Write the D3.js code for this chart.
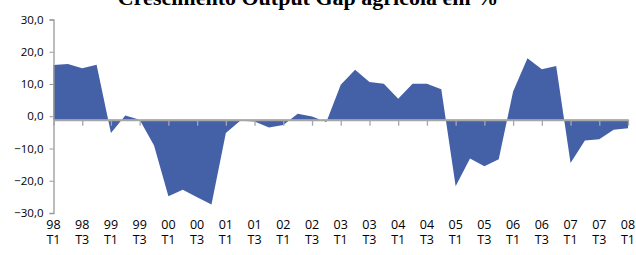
<!doctype html>
<html>
  <head>
    <script src="https://d3js.org/d3.v7.min.js"></script>
    <style>
      body { margin: 0; background: #fff; }
    </style>
  </head>
  <body>
    <script>
    // quarterly data, 98 T1 .. 08 T1
    var quarters = [
      "98 T1","98 T2","98 T3","98 T4",
      "99 T1","99 T2","99 T3","99 T4",
      "00 T1","00 T2","00 T3","00 T4",
      "01 T1","01 T2","01 T3","01 T4",
      "02 T1","02 T2","02 T3","02 T4",
      "03 T1","03 T2","03 T3","03 T4",
      "04 T1","04 T2","04 T3","04 T4",
      "05 T1","05 T2","05 T3","05 T4",
      "06 T1","06 T2","06 T3","06 T4",
      "07 T1","07 T2","07 T3","07 T4",
      "08 T1"
    ];
    var values = [
      15.9, 16.2, 14.9, 16.0,
      -5.2, 0.2, -1.1, -9.1,
      -24.8, -22.8, -25.1, -27.4,
      -5.2, -1.4, -1.6, -3.5,
      -2.7, 0.8, -0.1, -1.8,
      9.8, 14.4, 10.6, 10.1,
      5.4, 10.1, 10.1, 8.4,
      -21.7, -13.1, -15.5, -13.3,
      7.7, 18.0, 14.6, 15.6,
      -14.5, -7.5, -7.1, -4.2,
      -3.7
    ];
    var yTicks = [-30, -20, -10, 0, 10, 20, 30];
    var title = "Crescimento Output Gap agrícola em %";

    var width = 636;
    var height = 255;
    var plotLeft = 53.5, plotRight = 628;
    var plotTop = 19.5, plotBottom = 213;
    var baseShift = 3.5; // category axis sits a bit under the 0,0 tick

    var svg = d3.select("body")
      .append("svg")
      .attr("width", width)
      .attr("height", height);

    var x = d3.scalePoint()
      .domain(quarters)
      .range([plotLeft, plotRight]);

    var y = d3.scaleLinear()
      .domain([-30, 30])
      .range([plotBottom, plotTop]);

    var baseY = y(0) + baseShift;

    var data = quarters.map(function(q, i) {
      return { q: q, v: values[i] };
    });

    var area = d3.area()
      .x(function(d) { return x(d.q); })
      .y0(baseY)
      .y1(function(d) { return y(d.v); });

    svg.append("path")
      .datum(data)
      .attr("fill", "#4461a7")
      .attr("d", area);

    // y axis
    var yAxis = d3.axisLeft(y)
      .tickValues(yTicks)
      .tickSize(4)
      .tickPadding(6)
      .tickFormat(function(d) { return d3.format(".1f")(d).replace(".", ","); });

    var gy = svg.append("g")
      .attr("transform", "translate(" + plotLeft + ",0)")
      .call(yAxis);
    gy.select(".domain").attr("stroke", "#999").attr("stroke-width", 1.3);
    gy.selectAll(".tick line").attr("stroke", "#999");
    gy.selectAll(".tick text")
      .attr("font-family", "'Open Sans', sans-serif")
      .attr("font-size", "11.5px")
      .attr("fill", "#000");

    // x axis
    var tickQuarters = quarters.filter(function(d, i) { return i % 2 === 0; });
    var xAxis = d3.axisBottom(x)
      .tickValues(tickQuarters)
      .tickSizeInner(6)
      .tickSizeOuter(0)
      .tickFormat("");

    var gx = svg.append("g")
      .attr("transform", "translate(0," + baseY + ")")
      .call(xAxis);
    gx.select(".domain").attr("stroke", "#a6a6a6").attr("stroke-width", 2);
    gx.selectAll(".tick line").attr("stroke", "#a6a6a6").attr("stroke-width", 1.3);

    var labels = svg.append("g");
    tickQuarters.forEach(function(q) {
      var parts = q.split(" ");
      var t = labels.append("text")
        .attr("text-anchor", "middle")
        .attr("font-family", "'Open Sans', sans-serif")
        .attr("font-size", "12.5px")
        .attr("fill", "#000");
      t.append("tspan").attr("x", x(q)).attr("y", 229).text(parts[0]);
      t.append("tspan").attr("x", x(q)).attr("y", 244).text(parts[1]);
    });

    // title, cut by the top edge
    svg.append("text")
      .attr("x", 308)
      .attr("y", 5)
      .attr("text-anchor", "middle")
      .attr("font-family", "'Liberation Serif', serif")
      .attr("font-weight", "bold")
      .attr("font-size", "22px")
      .text(title);
    </script>
  </body>
</html>
